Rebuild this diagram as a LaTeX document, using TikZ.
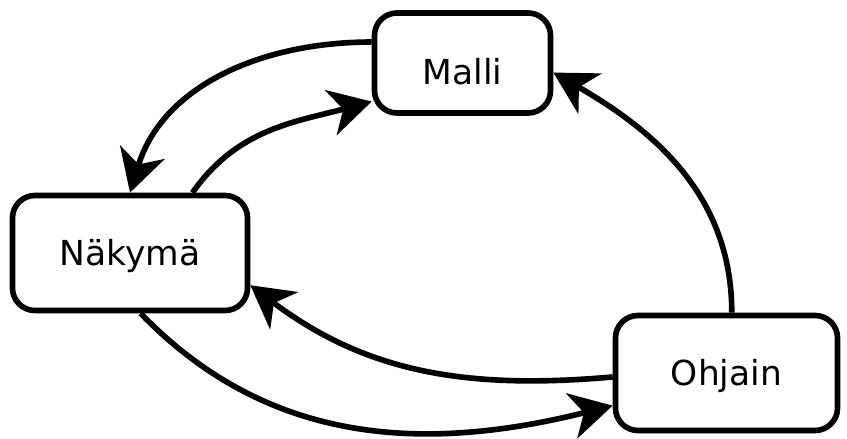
\documentclass[tikz,border=0pt]{standalone}
\usepackage{fontspec}
\setmainfont{DejaVu Sans}
\usepackage{tikz}
\usetikzlibrary{arrows.meta,positioning}
\tikzset{mvcbox/.style={draw,line width=4pt,rounded corners=16pt,fill=white,
    font=\fontsize{24.5pt}{28pt}\selectfont,text height=24pt,text depth=6pt,inner sep=0pt},
  flow/.style={line width=4pt,-{Stealth[length=30pt,width=33pt,inset=9pt]}}}

\begin{document}
\begin{tikzpicture}[x=0.025cm,y=0.025cm]
  \useasboundingbox (0,0) rectangle (847,439);
  \node[mvcbox,minimum width=4.4cm,minimum height=2.5cm,text height=36pt] (malli) at (462.5,376) {Malli};
  \node[mvcbox,minimum width=5.875cm,minimum height=2.875cm] (nakyma) at (130,186) {Näkymä};
  \node[mvcbox,minimum width=5.55cm,minimum height=2.875cm] (ohjain) at (726.5,66) {Ohjain};
  % malli <-> nakyma
  \draw[flow] (malli.167) to[out=180,in=73] (nakyma.north);
  \draw[flow] (nakyma.44) to[out=55,in=195] (malli.203);
  % ohjain -> malli
  \draw[flow] (ohjain.85) to[out=90,in=330] (malli.354);
  % ohjain <-> nakyma
  \draw[flow] (ohjain.182) to[out=185,in=323] (nakyma.345);
  \draw[flow] (nakyma.280) to[out=314,in=194] (ohjain.196);
\end{tikzpicture}
\end{document}
